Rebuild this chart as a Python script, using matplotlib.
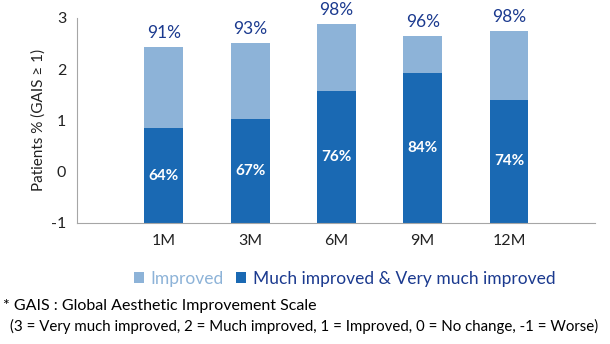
import matplotlib.pyplot as plt
import numpy as np

plt.rcParams['font.family'] = ['Lato', 'DejaVu Sans']
plt.rcParams['axes.unicode_minus'] = False

# dados
meses = ['1M', '3M', '6M', '9M', '12M']
topo_escuro = [0.85, 1.03, 1.58, 1.93, 1.40]   # topo da barra "Much improved"
topo_total = [2.43, 2.51, 2.88, 2.65, 2.75]    # topo da barra "Improved"
pct_escuro = ['64%', '67%', '76%', '84%', '74%']
pct_total = ['91%', '93%', '98%', '96%', '98%']
base = -1

cor_clara = '#8DB3D8'
cor_escura = '#1A69B3'
cor_texto = '#1B3A8F'

fig = plt.figure(figsize=(6.1, 3.44), dpi=100)
ax = fig.add_axes([0.127, 0.352, 0.849, 0.596])

x = np.arange(len(meses))
escuro = np.array(topo_escuro) - base
claro = np.array(topo_total) - np.array(topo_escuro)

ax.bar(x, escuro, bottom=base, width=0.45, color=cor_escura,
       label='Much improved & Very much improved')
ax.bar(x, claro, bottom=topo_escuro, width=0.45, color=cor_clara,
       label='Improved')

for i in range(len(meses)):
    ax.text(x[i], (topo_escuro[i] + base) / 2, pct_escuro[i], ha='center',
            va='center', color='white', fontsize=11, fontweight='bold')
    ax.text(x[i], topo_total[i] + 0.12, pct_total[i], ha='center',
            va='bottom', color=cor_texto, fontsize=12.5)

ax.set_xlim(-1, 5)
ax.set_ylim(-1, 3)
ax.set_xticks(x)
ax.set_xticklabels(meses)
ax.set_yticks([-1, 0, 1, 2, 3])
ax.tick_params(length=0, labelsize=11.5, colors='#222222', pad=8)
ax.set_ylabel('Patients % (GAIS ≥ 1)', fontsize=11, color='#222222')
for lado in ['top', 'right']:
    ax.spines[lado].set_visible(False)
for lado in ['left', 'bottom']:
    ax.spines[lado].set_color('#A6A6A6')

# legenda
h, l = ax.get_legend_handles_labels()
leg = fig.legend(h[::-1], l[::-1], loc='center', bbox_to_anchor=(0.565, 0.19),
                 ncol=2, frameon=False, fontsize=12.5, handlelength=0.55,
                 handleheight=0.55, handletextpad=0.4, columnspacing=0.7)
leg.get_texts()[0].set_color(cor_clara)
leg.get_texts()[1].set_color(cor_texto)

fig.text(0.005, 0.11, '* GAIS : Global Aesthetic Improvement Scale',
         fontsize=11.5, color='black', va='center')
fig.text(0.016, 0.05, '(3 = Very much improved, 2 = Much improved, 1 = Improved, '
         '0 = No change, -1 = Worse)', fontsize=10.8, color='black', va='center')

plt.savefig('out.png', dpi=100)
